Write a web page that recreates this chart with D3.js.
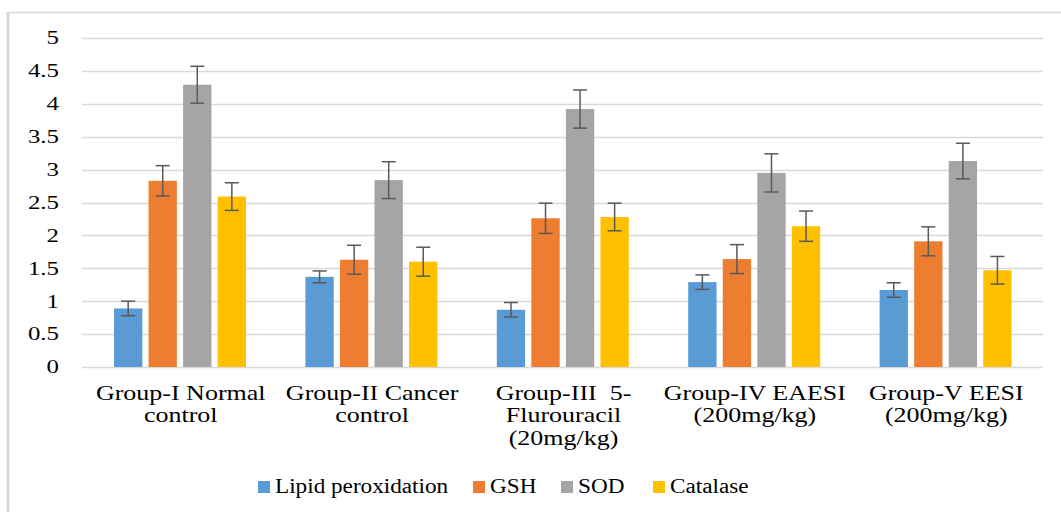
<!DOCTYPE html>
<html>
<head>
<meta charset="utf-8">
<script src="https://cdn.jsdelivr.net/npm/d3@7"></script>
<style>
  body { margin: 0; background: #fff; }
  svg { display: block; }
</style>
</head>
<body>
<svg width="1061" height="512"></svg>
<script>
// groups on the x axis, each label split into lines
const groups = ["g1", "g2", "g3", "g4", "g5"];
const groupLabels = [
  ["Group-I Normal", "control"],
  ["Group-II Cancer", "control"],
  ["Group-III  5-", "Flurouracil", "(20mg/kg)"],
  ["Group-IV EAESI", "(200mg/kg)"],
  ["Group-V EESI", "(200mg/kg)"]
];

const series = ["Lipid peroxidation", "GSH", "SOD", "Catalase"];
const colors = ["#5B9BD5", "#ED7D31", "#A5A5A5", "#FFC000"];

// mean values per series (one per group)
const lipid    = [0.89, 1.37, 0.87, 1.29, 1.17];
const gsh      = [2.83, 1.63, 2.26, 1.64, 1.91];
const sod      = [4.29, 2.84, 3.92, 2.95, 3.13];
const catalase = [2.59, 1.60, 2.28, 2.14, 1.47];

// error bar half widths
const lipidErr    = [0.11, 0.09, 0.11, 0.11, 0.11];
const gshErr      = [0.23, 0.22, 0.23, 0.22, 0.22];
const sodErr      = [0.28, 0.28, 0.29, 0.29, 0.27];
const catalaseErr = [0.21, 0.22, 0.21, 0.23, 0.21];

const yTicks = [0, 0.5, 1, 1.5, 2, 2.5, 3, 3.5, 4, 4.5, 5];

const values = [lipid, gsh, sod, catalase];
const errors = [lipidErr, gshErr, sodErr, catalaseErr];

const FONT = '"Liberation Serif"';
const svg = d3.select("svg");

// chart frame (only top and left edges visible in the picture)
svg.append("line").attr("x1", 8).attr("x2", 1061).attr("y1", 12.5).attr("y2", 12.5)
  .attr("stroke", "#d9d9d9").attr("stroke-width", 1.5);
svg.append("line").attr("x1", 8).attr("x2", 8).attr("y1", 12).attr("y2", 512)
  .attr("stroke", "#d9d9d9").attr("stroke-width", 3);

const x0 = d3.scaleBand().domain(groups).range([84, 1041]);
const x1 = d3.scaleBand().domain(series).range([30, 162]).paddingInner(0.18);
const y = d3.scaleLinear().domain([0, 5]).range([367, 38]);

// gridlines
svg.append("g").selectAll("line").data(yTicks).join("line")
  .attr("x1", 82).attr("x2", 1043)
  .attr("y1", d => Math.round(y(d)) + 0.5).attr("y2", d => Math.round(y(d)) + 0.5)
  .attr("stroke", "#d9d9d9").attr("stroke-width", 1.5);

// y tick labels
svg.append("g").selectAll("text").data(yTicks).join("text")
  .attr("transform", d => `translate(59,${y(d)}) scale(1.38,1)`)
  .attr("text-anchor", "end").attr("dy", "0.35em")
  .attr("font-size", 18)
  .style("font-family", FONT)
  .text(d => d);

// bars + error bars
const gGroups = svg.append("g").selectAll("g").data(groups).join("g")
  .attr("transform", d => `translate(${x0(d)},0)`);

gGroups.each(function(g, gi) {
  const sel = d3.select(this);
  series.forEach((s, si) => {
    const v = values[si][gi];
    const e = errors[si][gi];
    const bx = x1(s);
    const cx = bx + x1.bandwidth() / 2;
    sel.append("rect")
      .attr("x", bx).attr("width", x1.bandwidth())
      .attr("y", y(v)).attr("height", y(0) - y(v))
      .attr("fill", colors[si]);
    const eb = sel.append("g").attr("stroke", "#595959").attr("stroke-width", 1.5);
    eb.append("line").attr("x1", cx).attr("x2", cx).attr("y1", y(v + e)).attr("y2", y(v - e));
    eb.append("line").attr("x1", cx - 7).attr("x2", cx + 7).attr("y1", y(v + e)).attr("y2", y(v + e));
    eb.append("line").attr("x1", cx - 7).attr("x2", cx + 7).attr("y1", y(v - e)).attr("y2", y(v - e));
  });
});

// x labels
const xl = svg.append("g").selectAll("g").data(groups).join("g")
  .attr("transform", d => `translate(${x0(d) + x0.bandwidth() / 2 + 1},400) scale(1.3,1)`);
xl.each(function(g, gi) {
  d3.select(this).selectAll("text").data(groupLabels[gi]).join("text")
    .attr("y", (d, i) => i * 22.5)
    .attr("text-anchor", "middle")
    .attr("font-size", 20)
    .style("font-family", FONT)
    .style("white-space", "pre")
    .text(d => d);
});

// legend
const legendX = [258, 473, 561, 653];
const lg = svg.append("g").selectAll("g").data(series).join("g")
  .attr("transform", (d, i) => `translate(${legendX[i]},481)`);
lg.append("rect").attr("width", 12).attr("height", 12).attr("fill", (d, i) => colors[i]);
lg.append("text")
  .attr("transform", "translate(17,12) scale(1.16,1)")
  .attr("font-size", 20)
  .style("font-family", FONT)
  .text(d => d);
</script>
</body>
</html>
